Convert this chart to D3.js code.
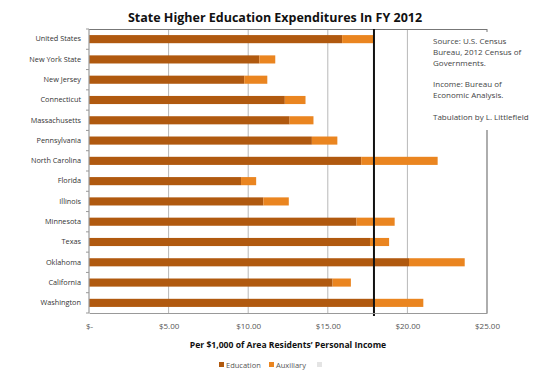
<!DOCTYPE html>
<html><head><meta charset="utf-8">
<script src="https://cdn.jsdelivr.net/npm/d3@7"></script>
<style>body{margin:0;background:#fff;} text{font-family:"Open Sans",sans-serif;}</style>
</head><body><svg id="c" width="552" height="378"></svg>
<script>
const categories = ["United States","New York State","New Jersey","Connecticut","Massachusetts","Pennsylvania","North Carolina","Florida","Illinois","Minnesota","Texas","Oklahoma","California","Washington"];
const education = [15.9,10.7,9.75,12.3,12.6,14.0,17.1,9.55,10.95,16.8,17.65,20.1,15.3,17.95];
const auxiliary = [1.95,1.0,1.45,1.3,1.5,1.6,4.8,0.95,1.6,2.4,1.2,3.5,1.15,3.05];
const referenceValue = 17.9;
const xTicks = [0,5,10,15,20,25];
const xTickLabels = ["$-","$5.00","$10.00","$15.00","$20.00","$25.00"];
const noteLines = ["Source:  U.S. Census","Bureau, 2012 Census of","Governments.","","Income:  Bureau of","Economic Analysis.","","Tabulation by L. Littlefield"];

const svg = d3.select("#c");
const L = 89, R = 487, T = 29, B = 313;
const x = d3.scaleLinear().domain([0,25]).range([L,R]);
const y = d3.scaleBand().domain(categories).range([T,B]).paddingInner(0.6).paddingOuter(0.3);

// gridlines
svg.append("g").selectAll("line").data(xTicks.slice(1,5)).join("line")
  .attr("x1",d=>x(d)).attr("x2",d=>x(d)).attr("y1",T).attr("y2",B)
  .attr("stroke","#b8b8b8").attr("stroke-width",1);

// frame top and right
svg.append("line").attr("x1",L).attr("x2",R).attr("y1",T+0.5).attr("y2",T+0.5).attr("stroke","#777").attr("stroke-width",1.2);
svg.append("line").attr("x1",R).attr("x2",R).attr("y1",T).attr("y2",T+3).attr("stroke","#777");
svg.append("line").attr("x1",R).attr("x2",R).attr("y1",130).attr("y2",B).attr("stroke","#777").attr("stroke-width",1.2);

// bars
const g = svg.append("g");
g.selectAll("rect.edu").data(categories).join("rect").attr("class","edu")
  .attr("x",x(0)).attr("y",d=>y(d)).attr("height",y.bandwidth())
  .attr("width",(d,i)=>x(education[i])-x(0)).attr("fill","#b0590f");
g.selectAll("rect.aux").data(categories).join("rect").attr("class","aux")
  .attr("x",(d,i)=>x(education[i])).attr("y",d=>y(d)).attr("height",y.bandwidth())
  .attr("width",(d,i)=>x(education[i]+auxiliary[i])-x(education[i])).attr("fill","#ea8520");

// reference line
svg.append("line").attr("x1",x(referenceValue)).attr("x2",x(referenceValue)).attr("y1",T).attr("y2",B+3)
  .attr("stroke","#111").attr("stroke-width",2);

// y axis
const ya = svg.append("g").attr("transform",`translate(${L},0)`)
  .call(d3.axisLeft(y).tickSize(0).tickPadding(8));
ya.select(".domain").remove();
ya.selectAll("text").attr("font-size",7.3).attr("fill","#333").style("font-family","Open Sans");
svg.append("line").attr("x1",L).attr("x2",L).attr("y1",T).attr("y2",B).attr("stroke","#999").attr("stroke-width",1.2);
svg.append("g").selectAll("line").data(d3.range(categories.length+1)).join("line")
  .attr("x1",L-3).attr("x2",L).attr("y1",i=>T+i*(B-T)/categories.length).attr("y2",i=>T+i*(B-T)/categories.length)
  .attr("stroke","#999");

// x axis
const xa = svg.append("g").attr("transform",`translate(0,${B})`)
  .call(d3.axisBottom(x).tickValues(xTicks).tickFormat((d,i)=>xTickLabels[i]).tickSize(0).tickPadding(10));
xa.select(".domain").attr("stroke","#999").attr("stroke-width",1.2);
xa.selectAll("text").attr("font-size",8).attr("fill","#555").style("font-family","Open Sans");

// title
svg.append("text").attr("x",275).attr("y",22).attr("text-anchor","middle")
  .attr("font-size",12.5).attr("font-weight","bold").attr("fill","#111").text("State Higher Education Expenditures In FY 2012");
// x label
svg.append("text").attr("x",288).attr("y",348).attr("text-anchor","middle")
  .attr("font-size",8.6).attr("font-weight","bold").attr("fill","#111").text("Per $1,000 of Area Residents\u2019 Personal Income");

// notes
svg.append("g").selectAll("text").data(noteLines).join("text")
  .attr("x",433).attr("y",(d,i)=>44+i*10.8).attr("font-size",8).attr("fill","#444").text(d=>d);

// legend
const legend = [{n:"Education",c:"#b0590f",x:219},{n:"Auxiliary",c:"#ea8520",x:269}];
const lg = svg.append("g");
legend.forEach(l=>{
  lg.append("rect").attr("x",l.x).attr("y",362).attr("width",5).attr("height",5).attr("fill",l.c);
  lg.append("text").attr("x",l.x+7).attr("y",368).attr("font-size",7.5).attr("fill","#555").text(l.n);
});
lg.append("rect").attr("x",317).attr("y",362).attr("width",5).attr("height",5).attr("fill","#e4e4e4");
</script></body></html>
